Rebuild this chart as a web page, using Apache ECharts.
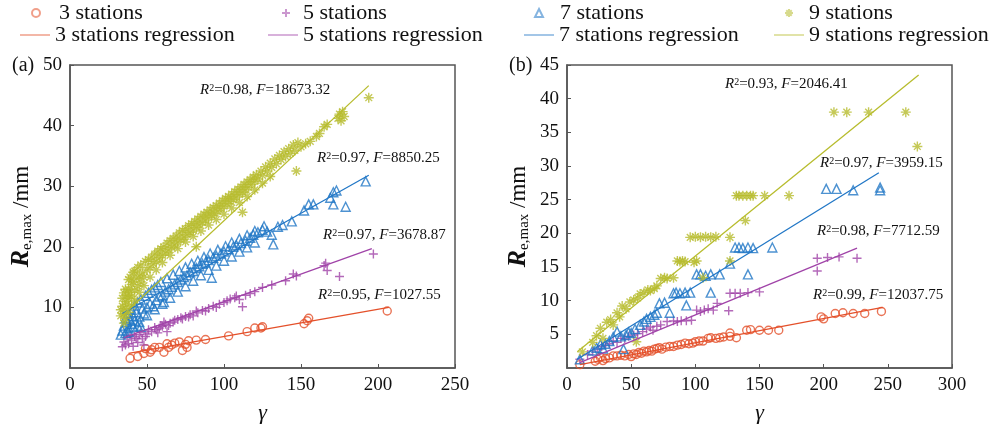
<!DOCTYPE html>
<html>
<head>
<meta charset="utf-8">
<script src="https://cdn.jsdelivr.net/npm/echarts@6/dist/echarts.min.js"></script>
<style>
  html, body { margin: 0; padding: 0; background: #fff; }
  #main { width: 996px; height: 429px; }
</style>
</head>
<body>
<div id="main"></div>
<script>
// ---- data: [gamma, Re,max (mm)] ----
// panel (a)
const a3 = [[39,1.6],[44,1.9],[48,2.4],[49,3.2],[52,2.6],[53,3.0],[55,3.4],[58,3.4],[61,2.6],[63,4.0],[64,3.4],[66,3.8],[68,4.1],[71,4.3],[73,2.9],[75,3.9],[76,3.4],[77,4.5],[82,4.6],[88,4.7],[103,5.3],[115,6.0],[120,6.6],[124,6.6],[125,6.8],[152,7.3],[154,7.8],[155,8.2],[206,9.4]]
const a5 = [[34,3.5],[35,4.3],[36,3.8],[37,5.0],[38,4.0],[39,5.4],[40,4.6],[41,3.6],[42,5.2],[43,4.9],[44,4.2],[45,5.5],[46,5.9],[47,4.8],[48,3.8],[49,5.2],[50,5.6],[51,6.3],[53,6.0],[55,6.7],[56,6.3],[57,5.8],[58,6.6],[59,7.0],[60,6.9],[61,7.6],[62,7.2],[63,6.0],[64,7.0],[65,7.4],[67,7.6],[68,7.9],[70,8.0],[72,8.3],[73,8.1],[75,8.5],[77,8.4],[78,8.8],[80,8.6],[82,9.4],[83,9.1],[86,9.5],[88,9.4],[90,9.8],[93,10.2],[95,10.0],[97,10.5],[100,10.8],[102,11.1],[104,11.4],[107,11.6],[108,11.9],[110,11.3],[112,10.1],[114,12.0],[117,12.3],[120,12.6],[125,13.3],[131,13.7],[140,14.4],[145,15.5],[147,15.2],[165,16.9],[166,17.3],[167,16.1],[175,15.1],[197,18.8]]
const a7 = [[33,5.5],[34,6.2],[35,7.0],[36,5.8],[36,8.2],[37,7.6],[38,6.6],[38,6.0],[38,9.0],[39,8.0],[40,7.3],[40,9.6],[41,8.6],[41,6.8],[42,7.8],[42,10.3],[43,9.2],[44,7.0],[44,10.8],[45,8.5],[45,7.6],[46,6.8],[46,11.3],[47,9.8],[48,9.0],[49,11.9],[50,10.0],[50,8.7],[51,12.4],[52,10.6],[53,12.9],[54,10.2],[55,13.3],[55,9.7],[56,11.2],[57,13.7],[58,11.8],[59,14.2],[60,12.0],[60,10.6],[61,10.9],[62,12.6],[63,14.8],[64,13.0],[65,11.6],[66,13.4],[67,15.4],[68,13.8],[70,14.2],[70,12.6],[71,16.0],[72,14.6],[74,15.0],[75,16.6],[75,13.5],[76,15.3],[78,15.8],[79,17.2],[80,16.0],[80,14.4],[82,16.5],[83,17.7],[84,16.8],[85,15.3],[86,17.2],[87,18.3],[88,17.4],[90,17.8],[90,16.2],[91,18.9],[92,14.9],[93,18.2],[95,18.5],[95,16.9],[96,19.5],[98,18.9],[100,19.2],[100,17.7],[101,20.1],[103,19.6],[105,20.7],[105,18.4],[106,20.0],[108,20.3],[110,21.3],[110,19.2],[111,20.6],[114,21.0],[115,21.9],[115,19.9],[117,21.5],[119,22.0],[120,22.6],[120,20.7],[122,22.4],[125,22.8],[126,23.4],[128,22.5],[131,22.0],[132,20.4],[135,23.3],[138,23.6],[144,24.2],[152,26.0],[155,27.0],[158,27.0],[169,28.1],[171,27.0],[171,29.0],[173,29.3],[179,26.6],[192,30.8]]
const a9 = [[33,8.6],[33,9.6],[34,10.2],[34,11.5],[35,7.4],[35,9.0],[35,12.4],[36,11.0],[36,9.8],[36,8.2],[36,13.0],[37,12.0],[37,10.5],[38,13.0],[38,11.5],[38,9.2],[38,14.6],[39,12.5],[39,15.0],[40,13.8],[40,11.8],[40,10.3],[41,14.2],[41,15.8],[42,12.8],[42,11.2],[42,16.0],[43,14.8],[44,13.5],[44,16.6],[45,15.2],[45,12.5],[46,14.2],[46,17.0],[47,15.7],[48,15.0],[48,13.6],[49,17.6],[50,16.2],[51,17.9],[52,16.6],[52,15.0],[53,18.3],[54,17.2],[55,18.8],[56,17.6],[56,16.2],[57,19.3],[58,18.2],[59,19.7],[60,18.6],[60,17.4],[61,20.0],[62,19.0],[63,20.6],[64,19.5],[65,21.0],[65,18.6],[66,19.9],[67,21.4],[68,20.3],[69,21.8],[70,20.8],[70,19.7],[71,22.3],[72,21.2],[73,22.7],[74,21.6],[75,23.0],[75,20.8],[76,22.0],[77,23.5],[78,22.4],[79,23.8],[80,22.8],[80,21.7],[81,24.2],[82,20.0],[82,23.2],[83,24.6],[84,23.6],[85,25.0],[85,22.6],[86,24.0],[87,25.4],[88,24.4],[89,25.7],[90,24.8],[90,23.6],[91,26.1],[92,25.2],[93,26.5],[94,25.5],[95,26.8],[95,24.5],[96,25.9],[97,27.2],[98,26.3],[99,27.6],[100,26.7],[100,25.4],[101,28.0],[102,27.1],[103,28.3],[104,27.5],[105,28.7],[105,26.4],[106,27.8],[107,29.1],[108,28.2],[109,29.5],[110,28.6],[110,27.3],[111,29.9],[112,25.7],[112,29.0],[113,30.3],[114,29.4],[115,30.7],[115,28.3],[116,29.8],[117,31.1],[118,30.3],[119,31.5],[120,30.8],[120,29.4],[121,31.9],[122,31.2],[124,32.5],[125,31.8],[125,30.5],[127,33.2],[128,32.5],[130,33.8],[130,31.6],[131,33.1],[133,34.5],[134,33.7],[136,35.1],[137,34.4],[139,35.7],[140,34.9],[142,36.2],[143,35.4],[145,36.8],[146,35.9],[147,32.5],[148,37.2],[150,36.5],[153,37.0],[156,37.4],[160,38.2],[162,38.7],[165,39.8],[167,40.2],[174,41.2],[175,41.9],[176,40.8],[177,42.3],[178,41.5],[194,44.6]]
// regression end points, panel (a)
const a3fit = [[38,2.4],[207,10.0]]
const a5fit = [[35,5.0],[196,19.7]]
const a7fit = [[34,9.0],[194,31.8]]
const a9fit = [[33,8.4],[194,46.6]]

// panel (b)
const b3 = [[10,0.5],[22,1.0],[24,1.3],[26,1.6],[28,1.1],[30,1.4],[33,1.5],[36,1.8],[39,1.8],[42,1.9],[45,1.8],[48,2.0],[50,1.7],[52,2.1],[54,2.0],[56,2.3],[58,2.2],[60,2.5],[62,2.4],[64,2.6],[66,2.5],[68,2.8],[70,2.9],[72,3.0],[74,2.8],[77,3.1],[80,3.2],[83,3.2],[86,3.4],[89,3.5],[92,3.7],[95,3.6],[98,3.7],[100,3.9],[103,4.0],[106,4.0],[110,4.4],[112,4.5],[116,4.4],[119,4.5],[122,4.6],[127,4.7],[127,5.2],[132,4.5],[140,5.6],[143,5.7],[150,5.6],[157,5.6],[165,5.6],[198,7.6],[200,7.3],[209,8.1],[215,8.2],[223,8.1],[232,8.1],[245,8.4]]
const b5 = [[10,1.3],[16,2.0],[20,2.5],[24,2.8],[27,3.2],[30,3.4],[33,3.6],[36,4.0],[39,3.8],[42,4.4],[45,4.3],[48,4.7],[52,4.9],[55,5.1],[59,5.4],[62,5.8],[65,6.1],[67,5.6],[70,6.2],[73,6.4],[78,6.9],[83,7.0],[86,6.9],[89,7.0],[93,7.0],[97,7.1],[101,8.6],[104,8.4],[107,8.6],[110,8.8],[114,8.6],[117,9.6],[126,8.5],[127,11.1],[131,11.1],[135,11.1],[141,11.2],[150,11.3],[195,16.3],[195,14.4],[203,16.4],[212,16.5],[226,16.3]]
const b7 = [[10,1.3],[20,2.6],[23,3.0],[26,3.5],[28,2.9],[30,3.6],[33,4.0],[36,4.6],[39,5.4],[42,4.7],[44,2.8],[46,4.9],[48,5.3],[50,5.2],[53,5.8],[57,6.4],[60,6.9],[62,7.3],[65,7.6],[68,7.9],[70,8.2],[72,9.6],[76,9.7],[80,8.2],[83,11.1],[85,11.2],[88,11.1],[92,11.2],[93,9.3],[96,11.2],[101,13.9],[104,13.9],[108,13.7],[112,13.9],[112,11.2],[119,13.9],[127,15.5],[131,17.9],[134,17.9],[137,17.8],[141,17.9],[145,17.8],[141,13.9],[160,17.9],[202,26.6],[210,26.6],[223,26.4],[244,26.8],[244,26.4]]
const b9 = [[12,2.4],[20,3.8],[23,4.8],[26,5.9],[28,4.4],[31,6.8],[34,7.2],[36,6.4],[39,8.2],[41,7.6],[43,9.2],[46,8.8],[49,9.8],[52,10.1],[54,3.9],[55,10.4],[57,11.0],[60,11.2],[63,11.6],[65,11.5],[68,11.8],[70,12.2],[73,13.3],[76,13.4],[78,13.3],[83,13.4],[86,15.9],[88,15.8],[90,15.9],[92,15.8],[99,15.7],[101,15.9],[106,13.4],[96,19.4],[100,19.5],[104,19.4],[108,19.5],[112,19.4],[116,19.5],[127,19.4],[127,15.9],[139,21.9],[132,25.6],[134,25.6],[137,25.6],[140,25.6],[143,25.6],[145,25.6],[154,25.6],[173,25.6],[208,38.0],[218,38.0],[235,38.0],[264,38.0],[273,32.9]]
const b3fit = [[10,0.5],[246,9.0]]
const b5fit = [[10,0.8],[226,17.8]]
const b7fit = [[8,1.3],[243,29.0]]
const b9fit = [[8,2.4],[274,43.5]]

// fit statistics (top to bottom in each panel)
const r2A = ['0.98', '0.97', '0.97', '0.95']
const fA = ['18673.32', '8850.25', '3678.87', '1027.55']
const r2B = ['0.93', '0.97', '0.98', '0.99']
const fB = ['2046.41', '3959.15', '7712.59', '12037.75']

const stations = [3, 5, 7, 9]

// ---- style ----
const FONT = '"Liberation Serif", "DejaVu Serif", serif'
const colors = ['#e4502a', '#a043a8', '#2177c6', '#b7bc2d']
const PLUS = 'path://M5,0L5,10M0,5L10,5'
const STAR = 'path://M5,0L5,10M0,5L10,5M1.6,1.6L8.4,8.4M8.4,1.6L1.6,8.4'
const LINE_ICON = 'path://M0,0L30,0L30,1.5L0,1.5Z'
const symbols = ['circle', PLUS, 'triangle', STAR]
const sizes = [8, 9, 9, 10]

const chart = echarts.init(document.getElementById('main'), null, { renderer: 'canvas' })

const scatter = (i, data, gi) => ({
  type: 'scatter',
  name: stations[i] + ' stations',
  data,
  xAxisIndex: gi,
  yAxisIndex: gi,
  symbol: symbols[i],
  symbolSize: sizes[i],
  itemStyle: { color: 'rgba(255,255,255,0)', borderColor: colors[i], borderWidth: 1.4 },
  emphasis: { disabled: true },
  z: 2
})

const fit = (i, data, gi) => ({
  type: 'line',
  name: stations[i] + ' stations regression',
  data,
  xAxisIndex: gi,
  yAxisIndex: gi,
  symbol: 'none',
  lineStyle: { color: colors[i], width: 1.3 },
  itemStyle: { color: colors[i] },
  emphasis: { disabled: true },
  z: 3
})

const axisX = (gi, max) => ({
  type: 'value', gridIndex: gi, min: 0, max, interval: 50,
  name: 'γ', nameLocation: 'middle', nameGap: 34,
  nameTextStyle: { fontFamily: FONT, fontStyle: 'italic', fontSize: 22, color: '#111' },
  axisLine: { lineStyle: { color: '#555', width: 1.5 } },
  axisTick: { inside: true, length: 4, lineStyle: { color: '#555' } },
  axisLabel: { fontFamily: FONT, fontSize: 19, color: '#111', margin: 8 },
  splitLine: { show: false }
})

const axisY = (gi, max, interval) => ({
  type: 'value', gridIndex: gi, min: 0, max, interval,
  name: '{R|R}{s|e,max}{u| /mm}', nameLocation: 'middle', nameGap: 35,
  nameTextStyle: {
    color: '#111',
    rich: {
      R: { fontFamily: FONT, fontStyle: 'italic', fontWeight: 'bold', fontSize: 26, color: '#111' },
      s: { fontFamily: FONT, fontSize: 15, color: '#111', verticalAlign: 'bottom', padding: [12, 0, 0, 0] },
      u: { fontFamily: FONT, fontSize: 23, color: '#111' }
    }
  },
  axisLine: { lineStyle: { color: '#555', width: 1.5 } },
  axisTick: { inside: true, length: 4, lineStyle: { color: '#555' } },
  axisLabel: { fontFamily: FONT, fontSize: 19, color: '#111', margin: 8, showMinLabel: false },
  splitLine: { show: false }
})

// legend: four columns, marker row on top, regression row below
const markerCenter = [35, 285, 538, 788]
const markerTextLeft = [58, 302, 559, 808]
const lineLeft = [20, 268, 524, 774]
const legendText = { fontFamily: FONT, fontSize: 22, color: '#111', lineHeight: 22 }
const legends = []
stations.forEach((s, i) => {
  legends.push({
    left: markerCenter[i] - 4,
    top: 2,
    padding: 0,
    itemWidth: 8,
    itemHeight: 8,
    selectedMode: false,
    textStyle: Object.assign({}, legendText, { padding: [0, 0, 0, markerTextLeft[i] - markerCenter[i] - 9] }),
    data: [{ name: s + ' stations', itemStyle: { opacity: 0.55 } }]
  })
  legends.push({
    left: lineLeft[i],
    top: 24,
    padding: 0,
    itemWidth: 30,
    itemHeight: 14,
    selectedMode: false,
    textStyle: legendText,
    data: [{ name: s + ' stations regression', icon: LINE_ICON, itemStyle: { opacity: 0.55 } }]
  })
})

// annotation positions [left px, middle px]
const notePosA = [[200, 92], [317, 160], [323, 237], [318, 297]]
const notePosB = [[725, 86], [820, 165], [817, 233], [813, 297]]
const noteRich = {
  i: { fontFamily: FONT, fontStyle: 'italic', fontSize: 15, fill: '#111' },
  p: { fontFamily: FONT, fontSize: 10, fill: '#111', verticalAlign: 'top', lineHeight: 15 },
  n: { fontFamily: FONT, fontSize: 15, fill: '#111' }
}
const note = (pos, r2, f) => ({
  type: 'text',
  left: pos[0],
  top: pos[1] - 9,
  silent: true,
  style: {
    text: '{i|R}{p|2}{n|=' + r2 + ', }{i|F}{n|=' + f + '}',
    rich: noteRich
  }
})

const graphics = [
  ...notePosA.map((p, k) => note(p, r2A[k], fA[k])),
  ...notePosB.map((p, k) => note(p, r2B[k], fB[k])),
  { type: 'text', left: 12, top: 56, style: { text: '(a)', font: '20px ' + FONT, fill: '#111' } },
  { type: 'text', left: 509, top: 56, style: { text: '(b)', font: '20px ' + FONT, fill: '#111' } }
]

chart.setOption({
  backgroundColor: '#fff',
  animation: false,
  legend: legends,
  grid: [
    { left: 70, right: 541, top: 65, bottom: 55, show: true, borderColor: '#555', borderWidth: 1.5, backgroundColor: 'transparent' },
    { left: 567, right: 44, top: 65, bottom: 55, show: true, borderColor: '#555', borderWidth: 1.5, backgroundColor: 'transparent' }
  ],
  xAxis: [axisX(0, 250), axisX(1, 300)],
  yAxis: [axisY(0, 50, 10), axisY(1, 45, 5)],
  graphic: graphics,
  series: [
    scatter(0, a3, 0), scatter(1, a5, 0), scatter(2, a7, 0), scatter(3, a9, 0),
    fit(0, a3fit, 0), fit(1, a5fit, 0), fit(2, a7fit, 0), fit(3, a9fit, 0),
    scatter(0, b3, 1), scatter(1, b5, 1), scatter(2, b7, 1), scatter(3, b9, 1),
    fit(0, b3fit, 1), fit(1, b5fit, 1), fit(2, b7fit, 1), fit(3, b9fit, 1)
  ]
})
</script>
</body>
</html>
